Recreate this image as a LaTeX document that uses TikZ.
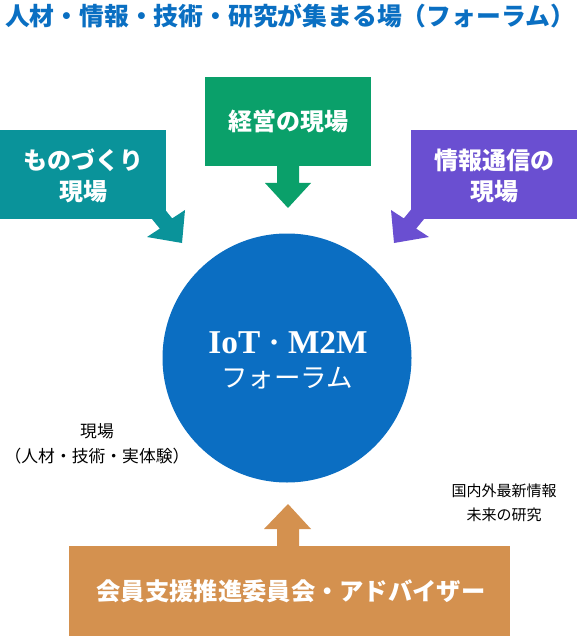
\documentclass[tikz,border=0pt]{standalone}
\usepackage{fontspec}
\setmainfont{Liberation Serif}
\newfontfamily\jp{Noto Sans CJK JP}
\usetikzlibrary{calc}
\definecolor{ttlblue}{HTML}{0A6FC2}
\definecolor{circblue}{HTML}{0B6EC2}
\definecolor{tealc}{HTML}{0A939A}
\definecolor{greenc}{HTML}{0AA06A}
\definecolor{purplec}{HTML}{6A4FD1}
\definecolor{orangec}{HTML}{D4914F}
\tikzset{
  boxnode/.style={inner sep=0pt, align=center, text=white,
    font=\jp\bfseries\fontsize{24}{31}\selectfont},
  smalllbl/.style={inner sep=0pt, align=center, text=black,
    font=\jp\fontsize{15}{24}\selectfont},
}
\begin{document}
\begin{tikzpicture}[x=1pt,y=-1pt]
\useasboundingbox (0,0) rectangle (577,636);
% title
\node[inner sep=0pt, text=ttlblue, font=\jp\bfseries\fontsize{24.8}{28}\selectfont] (title) at (290,16)
  {人材・情報・技術・研究が集まる場（フォーラム）};
% arrows
\fill[tealc] (153.2,195.2) -- (172.2,218.4) -- (185,210) -- (182,243) -- (147,237) -- (159.8,228.6) -- (140.8,205.4) -- cycle;
\fill[purplec] (422.8,195.2) -- (403.8,218.4) -- (391,210) -- (394,243) -- (429,237) -- (416.2,228.6) -- (435.2,205.4) -- cycle;
\fill[greenc] (277,160) -- (277,183) -- (265,183) -- (288,208) -- (311,183) -- (299,183) -- (299,160) -- cycle;
\fill[orangec] (277,550) -- (277,529) -- (264,529) -- (288,504) -- (311,529) -- (299,529) -- (299,550) -- cycle;
% boxes
\fill[tealc] (0,130) rectangle (166,219);
\node[boxnode] (mono) at (83,176) {ものづくり\\現場};
\fill[greenc] (205,77) rectangle (371,166);
\node[boxnode] (keiei) at (288,121.5) {経営の現場};
\fill[purplec] (411,130) rectangle (577,219);
\node[boxnode] (joho) at (494,176) {情報通信の\\現場};
\fill[orangec] (69,546) rectangle (510,636);
\node[boxnode, font=\jp\bfseries\fontsize{24.3}{28}\selectfont] (kaiin) at (291,591) {会員支援推進委員会・アドバイザー};
% circle
\node[circle, fill=circblue, minimum size=249pt, inner sep=0pt] (forum) at (287,358) {};
\node[inner sep=0pt, text=white, font=\bfseries\fontsize{33.3}{36}\selectfont] (iot) at (288,343) {IoT · M2M};
\node[inner sep=0pt, text=white, font=\jp\fontsize{26.5}{30}\selectfont] (forumtxt) at (287,378) {フォーラム};
% small labels
\node[smalllbl, font=\jp\fontsize{16.8}{25}\selectfont] (genba) at (97,444) {現場\\（人材・技術・実体験）};
\node[smalllbl] (kokunai) at (504,503) {国内外最新情報\\未来の研究};
\end{tikzpicture}
\end{document}
